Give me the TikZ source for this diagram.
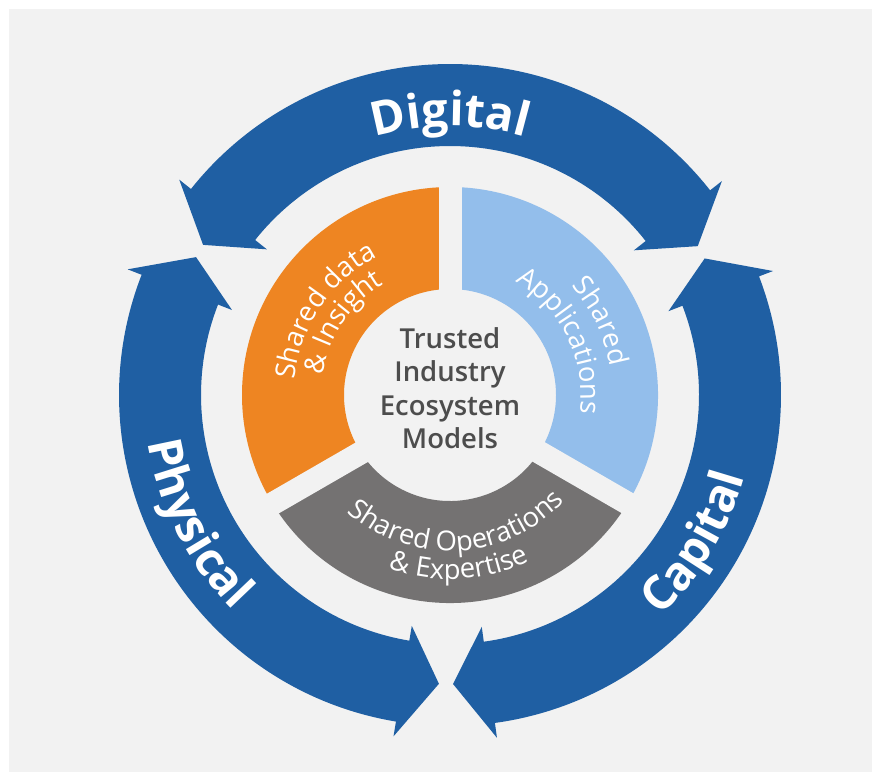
\documentclass[tikz,border=0pt]{standalone}
\usepackage{fontspec}
\setmainfont{Open Sans}
\newfontfamily\semib{Open Sans Semibold}
\usetikzlibrary{decorations.text}
\definecolor{bgc}{RGB}{242,242,242}
\definecolor{ringblue}{RGB}{31,95,163}
\definecolor{segorange}{RGB}{238,133,34}
\definecolor{seglblue}{RGB}{147,190,235}
\definecolor{seggray}{RGB}{116,114,114}
\definecolor{ctext}{RGB}{77,77,77}
\newcommand\bigfont{\fontsize{47}{47}\selectfont\bfseries\color{white}}
\newcommand\segfont{\fontsize{27.5}{30}\selectfont\color{white}}
\newcommand\ringarrow[2]{%
  \pgfmathsetmacro\ba{#1+7.2}\pgfmathsetmacro\bb{#2-7.2}%
  \fill[ringblue] (#1:289) -- (\ba:346) -- (\ba:331)
    arc[start angle=\ba, end angle=\bb, radius=331] -- (\bb:346) -- (#2:289)
    -- (\bb:234) -- (\bb:249) arc[start angle=\bb, end angle=\ba, radius=249]
    -- (\ba:234) -- cycle;}
\newcommand\annseg[3]{%
  \fill[#3] (#1:208) arc[start angle=#1, end angle=#2, radius=208]
    -- (#2:106) arc[start angle=#2, end angle=#1, radius=106] -- cycle;}
\begin{document}
\begin{tikzpicture}[x=1pt,y=1pt,
  ctextstyle/.style={text=ctext, font=\semib\fontsize{27.5}{30}\selectfont, inner sep=0pt, anchor=base},
  gapline/.style={draw=bgc, line width=23pt}]
\useasboundingbox (0,0) rectangle (872,-772);
\fill[white] (0,0) rectangle (872,-772);
\fill[bgc] (9,-9) rectangle (872,-772);
\begin{scope}[shift={(450,-395)}]
  % outer ring arrows
  \ringarrow{31.0}{148.7}
  \ringarrow{151.5}{267.8}
  \ringarrow{270.6}{388.2}
  % inner segments
  \annseg{90}{210}{segorange}
  \annseg{-30}{90}{seglblue}
  \annseg{210}{330}{seggray}
  \coordinate (g) at (0.5,-6);
  \draw[gapline] (g) -- ++(90:240);
  \draw[gapline] (g) -- ++(210:240);
  \draw[gapline] (g) -- ++(330:240);
  % ring labels
  \path[decorate, decoration={text along path, text align=center,
     text={|\bigfont|Digital}}] (140:269) arc[start angle=140, end angle=40, radius=269];
  \path[decorate, decoration={text along path, text align=center,
     text={|\bigfont|Physical}}] (177:305.5) arc[start angle=177, end angle=237, radius=305.5];
  \path[decorate, decoration={text along path, text align=center,
     text={|\bigfont|Capital}}] (-61:305.5) arc[start angle=-61, end angle=-1, radius=305.5];
  % segment labels
  \path[decorate, decoration={text along path, text align=center,
     text={|\segfont|Shared data}}] (196:156) arc[start angle=196, end angle=96, radius=156];
  \path[decorate, decoration={text along path, text align=center,
     text={|\segfont|{\&} Insight}}] (196:129) arc[start angle=196, end angle=96, radius=129];
  \path[decorate, decoration={text along path, text align=center,
     text={|\segfont|Shared}}] (76:163) arc[start angle=76, end angle=-24, radius=163];
  \path[decorate, decoration={text along path, text align=center,
     text={|\segfont|Applications}}] (76:131) arc[start angle=76, end angle=-24, radius=131];
  \path[decorate, decoration={text along path, text align=center,
     text={|\segfont|Shared Operations}}] (213:156) arc[start angle=213, end angle=333, radius=156];
  \path[decorate, decoration={text along path, text align=center,
     text={|\segfont|{\&} Expertise}}] (213:184) arc[start angle=213, end angle=333, radius=184];
\end{scope}
\node[ctextstyle] (l1) at (450,-348.3) {Trusted};
\node[ctextstyle] (l2) at (450,-381.7) {Industry};
\node[ctextstyle] (l3) at (450,-415) {Ecosystem};
\node[ctextstyle] (l4) at (450,-448.3) {Models};
\end{tikzpicture}
\end{document}
